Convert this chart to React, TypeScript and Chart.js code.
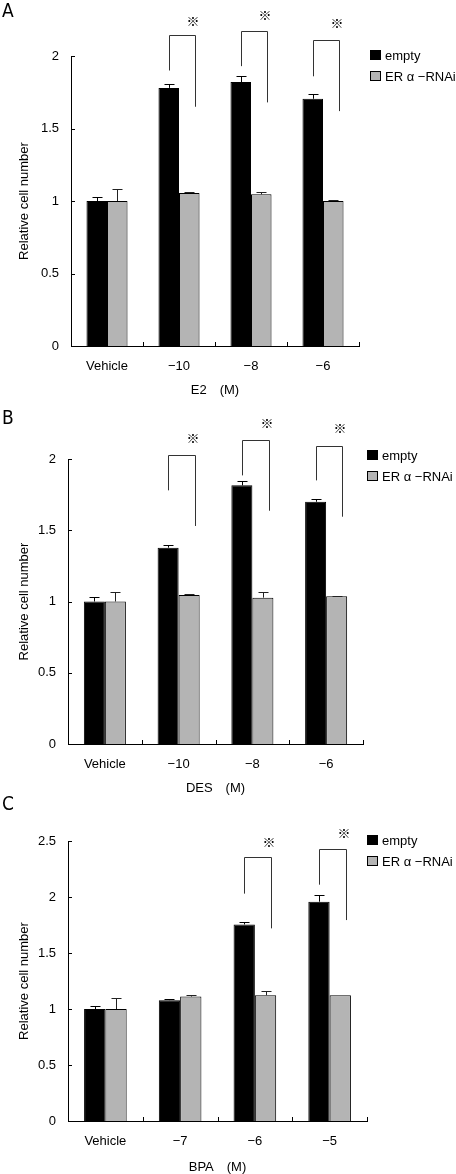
import React, { useEffect, useRef } from 'react';
import { Chart, registerables } from 'chart.js';

Chart.register(...registerables);

// ---------- shared ----------
const seriesNames = ['empty', 'ER α −RNAi'];

// ---------- Panel A : E2 ----------
const categoriesA = ['Vehicle', '−10', '−8', '−6'];
const emptyA = [1.0, 1.78, 1.82, 1.705];
const emptyErrA = [0.03, 0.03, 0.04, 0.03];
const rnaiA = [1.0, 1.055, 1.046, 1.0];
const rnaiErrA = [0.08, 0.007, 0.016, 0.006];
const sigIndexA = [1, 2, 3];
const sigLeftA = [1.9, 1.93, 1.86];
const sigTopA = [2.145, 2.17, 2.11];
const sigRightA = [1.65, 1.68, 1.62];
const sigStarA = [2.24, 2.28, 2.23];
const yTicksA = [0, 0.5, 1, 1.5, 2];

// ---------- Panel B : DES ----------
const categoriesB = ['Vehicle', '−10', '−8', '−6'];
const emptyB = [1.0, 1.378, 1.815, 1.7];
const emptyErrB = [0.03, 0.02, 0.03, 0.02];
const rnaiB = [1.0, 1.046, 1.027, 1.036];
const rnaiErrB = [0.065, 0.006, 0.037, 0.006];
const sigIndexB = [1, 2, 3];
const sigLeftB = [1.78, 1.885, 1.85];
const sigTopB = [2.03, 2.133, 2.094];
const sigRightB = [1.53, 1.637, 1.595];
const sigStarB = [2.145, 2.25, 2.215];
const yTicksB = [0, 0.5, 1, 1.5, 2];

// ---------- Panel C : BPA ----------
const categoriesC = ['Vehicle', '−7', '−6', '−5'];
const emptyC = [1.0, 1.079, 1.755, 1.958];
const emptyErrC = [0.028, 0.009, 0.021, 0.062];
const rnaiC = [1.0, 1.111, 1.123, 1.123];
const rnaiErrC = [0.1, 0.012, 0.039, 0.0];
const sigIndexC = [2, 3];
const sigLeftC = [2.03, 2.11];
const sigTopC = [2.354, 2.431];
const sigRightC = [1.72, 1.794];
const sigStarC = [2.494, 2.569];
const yTicksC = [0, 0.5, 1, 1.5, 2, 2.5];

const FONT = '"Liberation Sans", Arial, sans-serif';
const CJK = '"Noto Sans CJK JP", "Liberation Sans", sans-serif';

type PanelDef = {
  letter: string;
  xTitle: string;
  categories: string[];
  empty: number[];
  emptyErr: number[];
  rnai: number[];
  rnaiErr: number[];
  sigIndex: number[];
  sigLeft: number[];
  sigTop: number[];
  sigRight: number[];
  sigStar: number[];
  yTicks: number[];
  top: number;
  height: number;
  area: { top: number; left: number; right: number; bottom: number };
  legend: { x: number; y: number };
  letterTop: number;
};

const panels: PanelDef[] = [
  {
    letter: 'A', xTitle: 'E2\u3000(M)', categories: categoriesA,
    empty: emptyA, emptyErr: emptyErrA, rnai: rnaiA, rnaiErr: rnaiErrA,
    sigIndex: sigIndexA, sigLeft: sigLeftA, sigTop: sigTopA, sigRight: sigRightA, sigStar: sigStarA,
    yTicks: yTicksA,
    top: 0, height: 397,
    area: { top: 56, left: 71, right: 359, bottom: 346 },
    legend: { x: 370, y: 55 }, letterTop: 1,
  },
  {
    letter: 'B', xTitle: 'DES\u3000(M)', categories: categoriesB,
    empty: emptyB, emptyErr: emptyErrB, rnai: rnaiB, rnaiErr: rnaiErrB,
    sigIndex: sigIndexB, sigLeft: sigLeftB, sigTop: sigTopB, sigRight: sigRightB, sigStar: sigStarB,
    yTicks: yTicksB,
    top: 397, height: 398,
    area: { top: 459 - 397, left: 68, right: 363, bottom: 744 - 397 },
    legend: { x: 367, y: 455 - 397 }, letterTop: 408,
  },
  {
    letter: 'C', xTitle: 'BPA\u3000(M)', categories: categoriesC,
    empty: emptyC, emptyErr: emptyErrC, rnai: rnaiC, rnaiErr: rnaiErrC,
    sigIndex: sigIndexC, sigLeft: sigLeftC, sigTop: sigTopC, sigRight: sigRightC, sigStar: sigStarC,
    yTicks: yTicksC,
    top: 795, height: 379,
    area: { top: 841 - 795, left: 68, right: 367, bottom: 1121 - 795 },
    legend: { x: 367, y: 840 - 795 }, letterTop: 794,
  },
];

function line(ctx: CanvasRenderingContext2D, x1: number, y1: number, x2: number, y2: number) {
  ctx.beginPath();
  ctx.moveTo(x1, y1);
  ctx.lineTo(x2, y2);
  ctx.stroke();
}

const overlayPlugin = {
  id: 'overlay',
  afterDatasetsDraw(chart: any, _args: any, opts: any) {
    const p: PanelDef = opts.panel;
    const ctx: CanvasRenderingContext2D = chart.ctx;
    const xs = chart.scales.x;
    const ys = chart.scales.y;
    const { left, bottom } = chart.chartArea;
    ctx.save();
    ctx.strokeStyle = '#000';
    ctx.lineWidth = 1;
    // inward tick marks on y axis
    for (const v of p.yTicks) {
      const y = Math.round(ys.getPixelForValue(v)) + 0.5;
      line(ctx, left, y, left + 4, y);
    }
    // inward tick marks on x axis (category boundaries)
    for (let i = 0; i <= p.categories.length; i++) {
      const x = Math.round(xs.getPixelForValue(i - 0.5)) + 0.5;
      line(ctx, x, bottom, x, bottom - 4);
    }
    // error bars
    [p.emptyErr, p.rnaiErr].forEach((errs, di) => {
      const meta = chart.getDatasetMeta(di);
      const vals = chart.data.datasets[di].data as number[];
      meta.data.forEach((bar: any, i: number) => {
        const e = errs[i];
        if (!e) return;
        const x = Math.round(bar.x) + 0.5;
        const y0 = ys.getPixelForValue(vals[i]);
        const y1 = Math.round(ys.getPixelForValue(vals[i] + e)) + 0.5;
        ctx.strokeStyle = di === 0 ? '#000' : '#222';
        line(ctx, x, y0, x, y1);
        line(ctx, x - 5, y1, x + 5, y1);
      });
    });
    // significance brackets
    const m0 = chart.getDatasetMeta(0);
    const m1 = chart.getDatasetMeta(1);
    ctx.strokeStyle = '#333';
    p.sigIndex.forEach((ci, k) => {
      const b0 = m0.data[ci];
      const b1 = m1.data[ci];
      const xl = Math.round(b0.x) + 0.5;
      const xr = Math.round(b1.x + b1.width * 0.27) + 0.5;
      const yl = ys.getPixelForValue(p.sigLeft[k]);
      const yt = Math.round(ys.getPixelForValue(p.sigTop[k])) + 0.5;
      const yr = ys.getPixelForValue(p.sigRight[k]);
      ctx.beginPath();
      ctx.moveTo(xl, yl);
      ctx.lineTo(xl, yt);
      ctx.lineTo(xr, yt);
      ctx.lineTo(xr, yr);
      ctx.stroke();
      ctx.fillStyle = '#000';
      ctx.font = '13px ' + CJK;
      ctx.textAlign = 'center';
      ctx.textBaseline = 'middle';
      ctx.fillText('※', xr - 2.5, ys.getPixelForValue(p.sigStar[k]));
    });
    ctx.restore();
  },
  afterDraw(chart: any, _args: any, opts: any) {
    const p: PanelDef = opts.panel;
    const ctx: CanvasRenderingContext2D = chart.ctx;
    ctx.save();
    const fills = ['#000000', '#b4b4b4'];
    seriesNames.forEach((name, i) => {
      const cy = p.legend.y + i * 21;
      ctx.fillStyle = fills[i];
      ctx.fillRect(p.legend.x, cy - 5, 11, 10);
      ctx.strokeStyle = '#000';
      ctx.lineWidth = 1;
      ctx.strokeRect(p.legend.x + 0.5, cy - 4.5, 10, 9);
      ctx.fillStyle = '#000';
      ctx.font = '13px ' + FONT;
      ctx.textAlign = 'left';
      ctx.textBaseline = 'middle';
      ctx.fillText(name, p.legend.x + 15, cy + 1);
    });
    ctx.restore();
  },
};

function Panel({ p }: { p: PanelDef }) {
  const ref = useRef<HTMLCanvasElement | null>(null);
  useEffect(() => {
    if (!ref.current) return;
    const yMax = p.yTicks[p.yTicks.length - 1];
    const chart = new Chart(ref.current, {
      type: 'bar',
      data: {
        labels: p.categories,
        datasets: [
          {
            label: seriesNames[0],
            data: p.empty,
            backgroundColor: '#000000',
            borderColor: '#000000',
            borderWidth: 1,
            categoryPercentage: 0.57,
            barPercentage: 1,
          },
          {
            label: seriesNames[1],
            data: p.rnai,
            backgroundColor: '#b4b4b4',
            borderColor: '#000000',
            borderWidth: 1,
            categoryPercentage: 0.57,
            barPercentage: 1,
          },
        ],
      },
      options: {
        responsive: false,
        animation: false,
        events: [],
        layout: {
          padding: { top: p.area.top, right: 456 - p.area.right, left: 0, bottom: 0 },
        },
        plugins: {
          legend: { display: false },
          tooltip: { enabled: false },
          overlay: { panel: p },
        } as any,
        scales: {
          x: {
            grid: { display: false, drawTicks: false },
            border: { display: true, color: '#000', width: 1 },
            ticks: { color: '#000', font: { family: FONT, size: 13 }, padding: 13, maxRotation: 0 },
            title: {
              display: true,
              text: p.xTitle,
              color: '#000',
              font: { family: FONT, size: 13, lineHeight: 1 },
              padding: { top: 0, bottom: 0 },
            },
            afterFit: (s: any) => {
              s.height = p.height - p.area.bottom;
            },
          },
          y: {
            min: 0,
            max: yMax,
            grid: { display: false, drawTicks: false },
            border: { display: true, color: '#000', width: 1 },
            ticks: {
              stepSize: 0.5,
              color: '#000',
              font: { family: FONT, size: 13 },
              padding: 12,
              callback: (v: any) => String(v),
            },
            title: {
              display: true,
              text: 'Relative cell number',
              color: '#000',
              font: { family: FONT, size: 13, lineHeight: 1 },
              padding: { top: 18, bottom: 0 },
            },
            afterFit: (s: any) => {
              s.width = p.area.left;
            },
          },
        },
      },
      plugins: [overlayPlugin as any],
    });
    return () => chart.destroy();
  }, [p]);
  return (
    <>
      <canvas
        ref={ref}
        width={456}
        height={p.height}
        style={{ position: 'absolute', left: 0, top: p.top, width: 456, height: p.height, display: 'block' }}
      />
      <div
        style={{
          position: 'absolute',
          left: 2,
          top: p.letterTop,
          fontFamily: '"Liberation Sans Narrow", "DejaVu Sans Condensed", sans-serif',
          fontSize: 19,
          lineHeight: '19px',
          color: '#000',
        }}
      >
        {p.letter}
      </div>
    </>
  );
}

export default function App() {
  return (
    <div style={{ position: 'absolute', left: 0, top: 0, width: 456, height: 1174, background: '#fff', overflow: 'hidden' }}>
      {panels.map((p) => (
        <Panel key={p.letter} p={p} />
      ))}
    </div>
  );
}
